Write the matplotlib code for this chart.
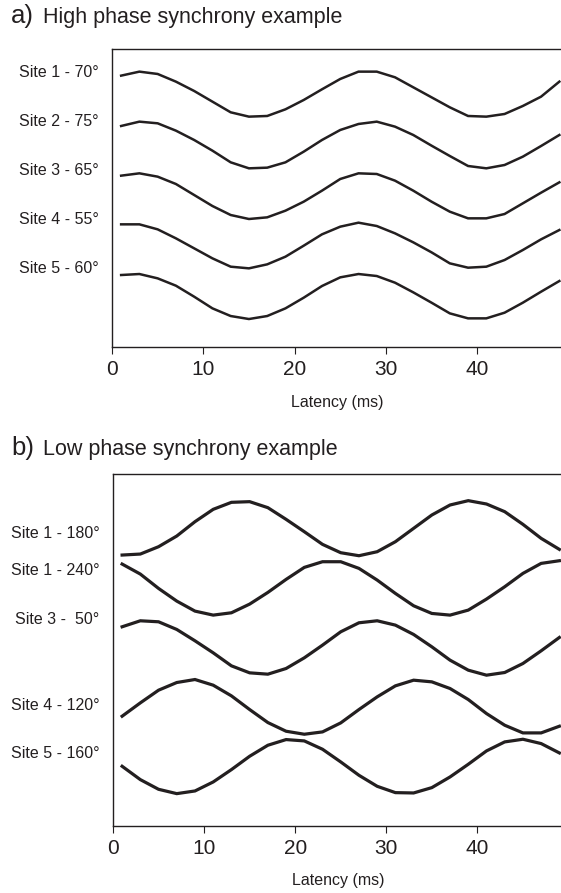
"""Phase synchrony examples: stacked site traces over latency."""

import numpy as np
import matplotlib
matplotlib.use("Agg")
import matplotlib.pyplot as plt
from matplotlib.transforms import blended_transform_factory

plt.rcParams["font.family"] = ["Liberation Sans", "DejaVu Sans"]

# sample latencies (ms), one sample every 2 ms
latency = np.arange(1, 50, 2)

# a) high phase synchrony, stacked traces (arbitrary units)
high_labels = ["Site 1 - 70°", "Site 2 - 75°", "Site 3 - 65°", "Site 4 - 55°", "Site 5 - 60°"]
high_site1 = [813, 825, 818, 795, 767, 735, 703, 690, 692, 712, 740, 772, 803,
              825, 825, 808, 778, 748, 718, 692, 690, 698, 722, 750, 795]
high_site2 = [662, 675, 670, 648, 620, 588, 553, 535, 537, 553, 585, 620, 650,
              668, 675, 660, 635, 603, 572, 542, 535, 545, 570, 602, 635]
high_site3 = [513, 520, 510, 488, 455, 422, 395, 383, 388, 408, 435, 468, 503,
              520, 518, 498, 468, 435, 405, 385, 385, 398, 430, 462, 493]
high_site4 = [367, 367, 352, 325, 295, 265, 240, 235, 247, 270, 303, 337, 360,
              372, 362, 340, 313, 283, 250, 237, 240, 260, 290, 322, 350]
high_site5 = [215, 218, 205, 183, 150, 115, 92, 83, 92, 115, 147, 182, 208,
              218, 212, 192, 163, 132, 100, 85, 85, 102, 132, 165, 197]

# b) low phase synchrony
low_labels = ["Site 1 - 180°", "Site 1 - 240°", "Site 3 -  50°", "Site 4 - 120°", "Site 5 - 160°"]
low_site1 = [812, 815, 837, 869, 912, 949, 970, 972, 954, 919, 882, 844, 819,
             810, 822, 852, 892, 932, 962, 975, 965, 942, 904, 862, 829]
low_site2 = [785, 755, 712, 674, 644, 632, 639, 665, 700, 739, 775, 792, 792,
             772, 737, 697, 660, 637, 632, 647, 680, 717, 757, 787, 795]
low_site3 = [597, 615, 612, 589, 555, 519, 480, 459, 455, 472, 504, 542, 582,
             609, 615, 602, 574, 537, 497, 467, 452, 460, 487, 525, 565]
low_site4 = [329, 369, 407, 430, 439, 422, 390, 349, 310, 284, 275, 282, 309,
             349, 387, 420, 437, 432, 412, 379, 337, 302, 279, 279, 299]
low_site5 = [179, 139, 110, 97, 105, 132, 169, 209, 242, 259, 255, 230, 192,
             152, 119, 100, 99, 115, 147, 185, 225, 252, 260, 247, 219]

INK = "#231f20"
W, H = 561, 893


def draw_panel(ax, traces, labels, label_y, ymax, lw, xlabel_y):
    for tr in traces:
        ax.plot(latency, tr, color=INK, linewidth=lw, solid_joinstyle="miter")
    ax.set_xlim(0, 49.4)
    ax.set_ylim(0, ymax)
    ax.set_xticks([0, 10, 20, 30, 40])
    ax.set_yticks([])
    ax.tick_params(axis="x", direction="out", length=5, width=0.8, pad=4.5,
                   labelsize=15, colors=INK)
    for side in ("left", "bottom", "top"):
        ax.spines[side].set_color(INK)
        ax.spines[side].set_linewidth(1.0)
    ax.spines["right"].set_visible(False)

    trans = blended_transform_factory(ax.transAxes, ax.transData)
    x_right = -0.03
    for lab, yy in zip(labels, label_y):
        ax.text(x_right, yy, lab, transform=trans, ha="right", va="center",
                fontsize=11.5, color=INK)

    ax.set_xlabel("Latency (ms)", fontsize=11.5, color=INK, va="center")
    ax.xaxis.set_label_coords(0.5, xlabel_y)


fig = plt.figure(figsize=(W / 100, H / 100), dpi=100)

ax_a = fig.add_axes([112 / W, 1 - 346.7 / H, (563 - 112) / W, (346.7 - 49.3) / H])
draw_panel(ax_a, [high_site1, high_site2, high_site3, high_site4, high_site5],
           high_labels, [822, 675, 528, 382, 235], 892, 1.8, -0.186)

ax_b = fig.add_axes([113 / W, 1 - 826 / H, (563 - 113) / W, (826 - 474.3) / H])
draw_panel(ax_b, [low_site1, low_site2, low_site3, low_site4, low_site5],
           low_labels, [877, 767, 619, 362, 217], 1054, 2.3, -0.156)

# panel titles
fig.text(11 / W, 1 - 22.7 / H, "a)", fontsize=18.5, color=INK, va="baseline")
fig.text(43 / W, 1 - 22.7 / H, "High phase synchrony example", fontsize=15.5,
         color=INK, va="baseline")
fig.text(11 / W, 1 - 455 / H, "b)", fontsize=18.5, color=INK, va="baseline")
fig.text(43 / W, 1 - 455 / H, "Low phase synchrony example", fontsize=15.5,
         color=INK, va="baseline")

fig.savefig("out.png", dpi=100)
